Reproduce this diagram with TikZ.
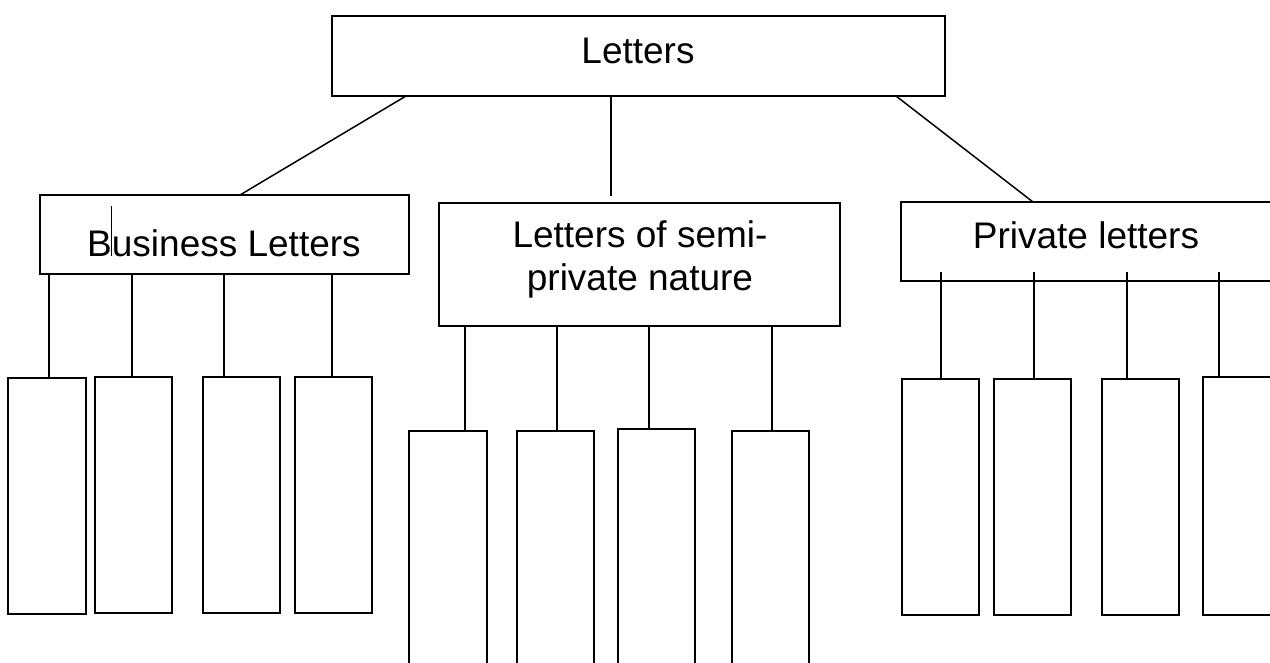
\documentclass[tikz,border=0pt]{standalone}
\usepackage{fontspec}
\setmainfont{Liberation Sans}
\begin{document}
\begin{tikzpicture}[x=1pt,y=-1pt,
  box/.style={draw, line width=1.5pt, inner sep=0pt, outer sep=0pt, anchor=north west},
  lbl/.style={inner sep=0pt, outer sep=0pt, anchor=base, font=\fontsize{37}{43}\selectfont, align=center},
  conn/.style={line width=1.5pt}]
\clip (0,0) rectangle (1270,662);
\fill[white] (0,0) rectangle (1270,662);
% main boxes
\node[box, minimum width=613, minimum height=80] (top) at (332,16) {};
\node[box, minimum width=369, minimum height=79] (bus) at (40,195) {};
\node[box, minimum width=401, minimum height=123] (semi) at (439,203) {};
\node[box, minimum width=420, minimum height=79] (priv) at (901,202) {};
% labels
\node[lbl] (tL) at (638,63) {Letters};
\node[lbl] (tB) at (224,256) {Business Letters};
\node[lbl] (tS1) at (640,247) {Letters of semi-};
\node[lbl] (tS2) at (640,290) {private nature};
\node[lbl] (tP) at (1086,248) {Private letters};
% cursor mark
\draw[line width=0.8pt] (111,206) coordinate (cur1) -- (111,256) coordinate (cur2);
% children of Business Letters
\node[box, minimum width=78, minimum height=236] (b1) at (8,378) {};
\node[box, minimum width=77, minimum height=236] (b2) at (95,377) {};
\node[box, minimum width=77, minimum height=236] (b3) at (203,377) {};
\node[box, minimum width=77, minimum height=236] (b4) at (295,377) {};
% children of semi-private
\node[box, minimum width=78, minimum height=280] (s1) at (409,431) {};
\node[box, minimum width=77, minimum height=280] (s2) at (517,431) {};
\node[box, minimum width=77, minimum height=282] (s3) at (618,429) {};
\node[box, minimum width=77, minimum height=280] (s4) at (732,431) {};
% children of private
\node[box, minimum width=77, minimum height=236] (p1) at (902,379) {};
\node[box, minimum width=77, minimum height=236] (p2) at (994,379) {};
\node[box, minimum width=77, minimum height=236] (p3) at (1102,379) {};
\node[box, minimum width=110, minimum height=238] (p4) at (1203,377) {};
% connectors from top
\coordinate (c1) at (240,195);
\coordinate (c2) at (611,196);
\coordinate (c3) at (1033,202);
\draw[conn] (top.south -| 406,0) -- (c1);
\draw[conn] (top.south -| 611,0) -- (c2);
\draw[conn] (top.south -| 896,0) -- (c3);
% business connectors
\draw[conn] (bus.south -| 49,0) -- (b1.north -| 49,0);
\draw[conn] (bus.south -| 132,0) -- (b2.north -| 132,0);
\draw[conn] (bus.south -| 224,0) -- (b3.north -| 224,0);
\draw[conn] (bus.south -| 332,0) -- (b4.north -| 332,0);
% semi connectors
\draw[conn] (semi.south -| 465,0) -- (s1.north -| 465,0);
\draw[conn] (semi.south -| 557,0) -- (s2.north -| 557,0);
\draw[conn] (semi.south -| 649,0) -- (s3.north -| 649,0);
\draw[conn] (semi.south -| 772,0) -- (s4.north -| 772,0);
% private connectors (start slightly inside the box)
\coordinate (pt1) at (941,272);
\coordinate (pt2) at (1034,272);
\coordinate (pt3) at (1127,272);
\coordinate (pt4) at (1219,272);
\draw[conn] (pt1) -- (p1.north -| pt1);
\draw[conn] (pt2) -- (p2.north -| pt2);
\draw[conn] (pt3) -- (p3.north -| pt3);
\draw[conn] (pt4) -- (p4.north -| pt4);
\end{tikzpicture}
\end{document}
